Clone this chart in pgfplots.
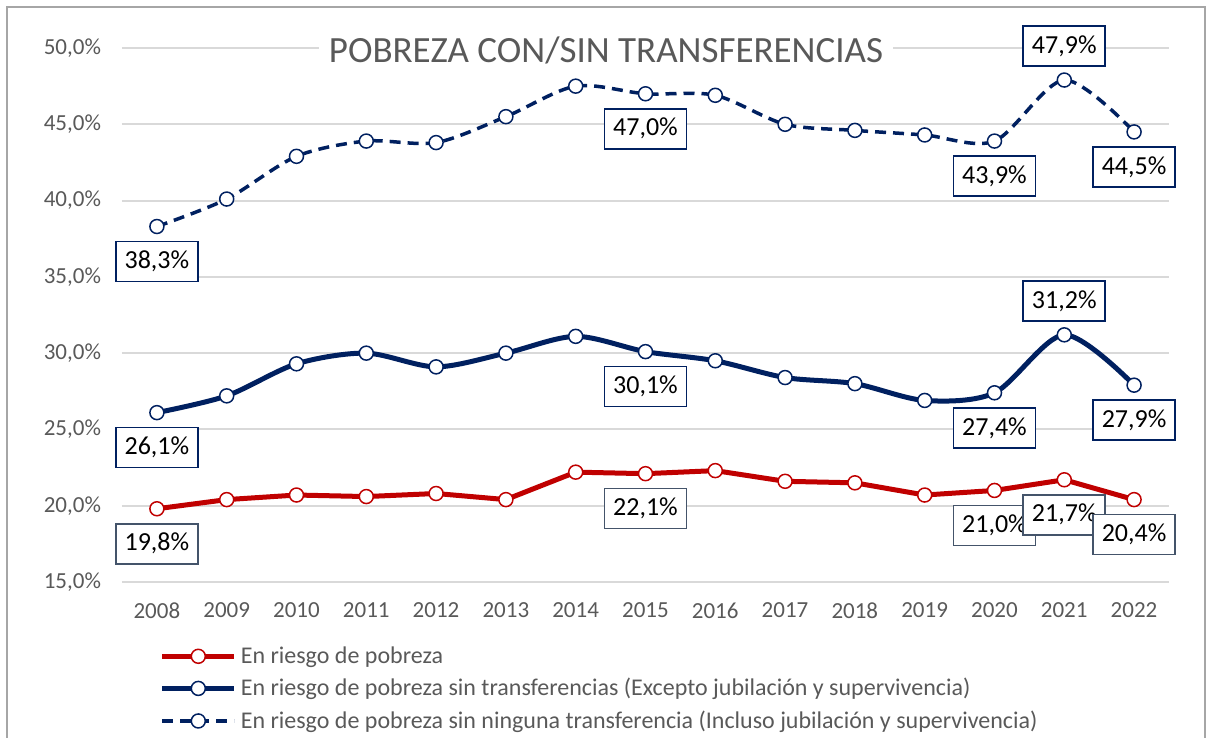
\documentclass[border=0pt]{standalone}
\usepackage{fontspec}
\setmainfont{Carlito}
\usepackage{pgfplots}
\usepackage{pgfplotstable}
\pgfplotsset{compat=1.18}

\definecolor{rojo}{HTML}{C00000}
\definecolor{marino}{HTML}{002060}
\definecolor{gristxt}{HTML}{595959}
\definecolor{grisrej}{HTML}{D9D9D9}
\definecolor{pizarra}{HTML}{44546A}
\definecolor{borde}{HTML}{A6A6A6}

% En riesgo de pobreza
\pgfplotstableread{
anio valor
2008 19.8
2009 20.4
2010 20.7
2011 20.6
2012 20.8
2013 20.4
2014 22.2
2015 22.1
2016 22.3
2017 21.6
2018 21.5
2019 20.7
2020 21.0
2021 21.7
2022 20.4
}\riesgo

% sin transferencias (excepto jubilacion y supervivencia)
\pgfplotstableread{
anio valor
2008 26.1
2009 27.2
2010 29.3
2011 30.0
2012 29.1
2013 30.0
2014 31.1
2015 30.1
2016 29.5
2017 28.4
2018 28.0
2019 26.9
2020 27.4
2021 31.2
2022 27.9
}\sintransf

% sin ninguna transferencia
\pgfplotstableread{
anio valor
2008 38.3
2009 40.1
2010 42.9
2011 43.9
2012 43.8
2013 45.5
2014 47.5
2015 47.0
2016 46.9
2017 45.0
2018 44.6
2019 44.3
2020 43.9
2021 47.9
2022 44.5
}\sinninguna

\pgfplotsset{
  etiqueta/.style 2 args={
    draw=none, mark=none, forget plot, point meta=y,
    nodes near coords={\pgfmathprintnumber[fixed,fixed zerofill,precision=1,use comma]{\pgfplotspointmeta}\%},
    every node near coord/.style={
      anchor=center, yshift=#2, fill=white, draw=#1, line width=0.8pt,
      text=black, font=\fontsize{13}{15}\selectfont,
      minimum width=41pt, minimum height=20pt, inner sep=0pt},
  },
  abajo/.style={x filter/.expression={(x==2008 || x==2015 || x==2020 || x==2022) ? x : nan}},
  arriba/.style={x filter/.expression={(x==2021) ? x : nan}},
}

\begin{document}
\begin{tikzpicture}
\useasboundingbox (-61pt,-78pt) rectangle (542.5pt,291pt);
\begin{axis}[
    at={(0,0)}, anchor=south west,
    scale only axis,
    width=523.5pt, height=267pt,
    xmin=2007.5, xmax=2022.5,
    ymin=15, ymax=50,
    enlargelimits=false,
    clip=false,
    xtick={2008,2009,...,2022},
    ytick={15,20,...,50},
    /pgf/number format/assume math mode=true,
    xticklabel style={/pgf/number format/1000 sep={}, yshift=-7pt},
    yticklabel={\pgfmathprintnumber[fixed,fixed zerofill,precision=1,use comma]{\tick}\%},
    yticklabel style={xshift=-7pt},
    tick label style={text=gristxt, font=\fontsize{11.5}{13.8}\selectfont},
    axis line style={draw=none},
    tick style={draw=none},
    ymajorgrids,
    major grid style={grisrej, line width=1pt},
    legend style={draw=none, fill=none,
      at={(axis description cs:0.03,-0.105)}, anchor=north west,
      font=\fontsize{12}{14.4}\selectfont, text=gristxt, row sep=2pt},
    legend cell align=left,
    legend image code/.code={
      \draw[mark repeat=2,mark phase=2,#1] plot coordinates {(0pt,0pt)(18pt,0pt)(36pt,0pt)};},
    mark size=3.5pt,
]
\addplot[rojo, line width=2.5pt, mark=*,
  mark options={fill=white, draw=rojo, line width=0.75pt, solid}]
  table[x=anio,y=valor]{\riesgo};
\addlegendentry{En riesgo de pobreza}

\addplot[marino, line width=2.5pt, smooth, mark=*,
  mark options={fill=white, draw=marino, line width=0.75pt, solid}]
  table[x=anio,y=valor]{\sintransf};
\addlegendentry{En riesgo de pobreza sin transferencias (Excepto jubilación y supervivencia)}

\addplot[marino, line width=1.75pt, dash pattern=on 5.5pt off 3.5pt, smooth, mark=*,
  mark options={fill=white, draw=marino, line width=0.75pt, solid}]
  table[x=anio,y=valor]{\sinninguna};
\addlegendentry{En riesgo de pobreza sin ninguna transferencia (Incluso jubilación y supervivencia)}

% etiquetas de datos
\addplot[etiqueta={marino}{-17.5pt}, abajo] table[x=anio,y=valor]{\sinninguna};
\addplot[etiqueta={marino}{17pt}, arriba] table[x=anio,y=valor]{\sinninguna};
\addplot[etiqueta={marino}{-17.5pt}, abajo] table[x=anio,y=valor]{\sintransf};
\addplot[etiqueta={marino}{17pt}, arriba] table[x=anio,y=valor]{\sintransf};
\addplot[etiqueta={pizarra}{-17.5pt}, x filter/.expression={(x==2008 || x==2015 || x>=2020) ? x : nan}]
  table[x=anio,y=valor]{\riesgo};
\end{axis}
\node[fill=white, inner xsep=5pt, text=gristxt, font=\fontsize{18.5}{22}\selectfont]
  at (242pt,266pt) {POBREZA CON/SIN TRANSFERENCIAS};
\draw[borde, line width=0.75pt] (-57.5pt,-90pt) -- (-57.5pt,287.5pt) -- (541.5pt,287.5pt) -- (541.5pt,-90pt);
\end{tikzpicture}
\end{document}
